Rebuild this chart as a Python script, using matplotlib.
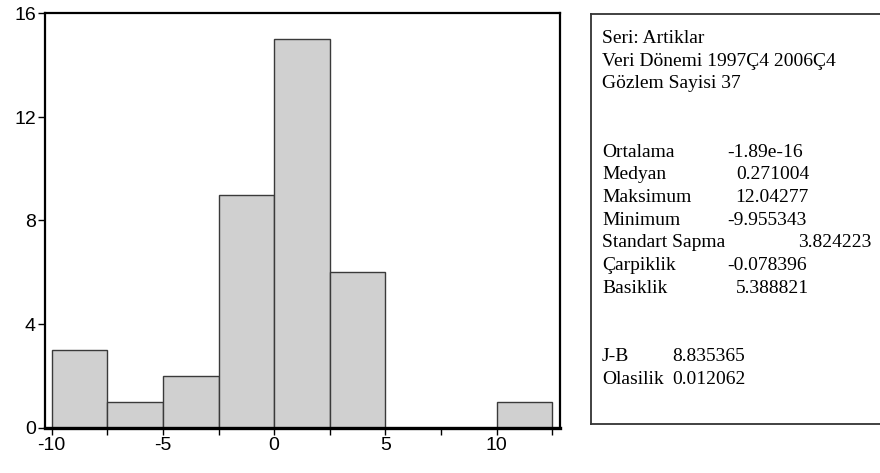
import matplotlib
matplotlib.use("Agg")
import matplotlib.pyplot as plt
from matplotlib.ticker import MultipleLocator, FuncFormatter

plt.rcParams["font.family"] = ["Liberation Sans", "DejaVu Sans"]

# histogram of residuals (bin width 2.5)
bin_left = [-10, -7.5, -5, -2.5, 0, 2.5, 5, 7.5, 10]
bin_width = 2.5
counts = [3, 1, 2, 9, 15, 6, 0, 0, 1]

y_ticks = [0, 4, 8, 12, 16]

# stats box text
header_lines = ["Seri: Artiklar", "Veri Dönemi 1997Ç4 2006Ç4", "Gözlem Sayisi 37"]
stat_names = ["Ortalama", "Medyan", "Maksimum", "Minimum", "Standart Sapma",
              "Çarpiklik", "Basiklik"]
stat_values = ["-1.89e-16", "0.271004", "12.04277", "-9.955343", "3.824223",
               "-0.078396", "5.388821"]
test_names = ["J-B", "Olasilik"]
test_values = ["8.835365", "0.012062"]

W, H = 880, 473
fig = plt.figure(figsize=(W / 100, H / 100), dpi=100)

def px(x, y):
    # pixel coords (top-left origin) -> figure fraction
    return x / W, 1 - y / H

ax = fig.add_axes([45 / W, 1 - 427.5 / H, (560 - 45) / W, (427.5 - 13.5) / H])
ax.bar(bin_left, counts, width=bin_width, align="edge",
       color="#d0d0d0", edgecolor="#3a3a3a", linewidth=1.0, zorder=2)
ax.set_xlim(-10.30, 12.85)
ax.set_ylim(0, 16)

ax.xaxis.set_major_locator(MultipleLocator(5))
ax.xaxis.set_minor_locator(MultipleLocator(2.5))
ax.set_yticks(y_ticks)
ax.xaxis.set_major_formatter(FuncFormatter(lambda v, p: "%d" % v))
ax.tick_params(axis="both", which="both", direction="out", length=5, width=1,
               color="black", labelsize=14, pad=1.5)

for s in ["left", "top", "right"]:
    ax.spines[s].set_linewidth(1.6)
ax.spines["bottom"].set_linewidth(2.4)

# stats panel
box = fig.add_axes([591 / W, 1 - 424 / H, (900 - 591) / W, (424 - 14) / H])
box.set_xticks([])
box.set_yticks([])
for s in box.spines.values():
    s.set_linewidth(1.3)
    s.set_color("#333333")

font = dict(family="Liberation Serif", size=14, color="black", va="baseline")
lx = 602
step = 22.7
y0 = 43

row = 0
for t in header_lines:
    fig.text(*px(lx, y0 + row * step), t, **font)
    row += 1
row += 2
value_x = [727, 736, 735, 727, 798, 727, 736]
for name, val, vx in zip(stat_names, stat_values, value_x):
    fig.text(*px(lx, y0 + row * step), name, **font)
    fig.text(*px(vx, y0 + row * step), val, **font)
    row += 1
row += 2
for name, val in zip(test_names, test_values):
    fig.text(*px(lx, y0 + row * step), name, **font)
    fig.text(*px(672, y0 + row * step), val, **font)
    row += 1

fig.savefig("out.png", dpi=100)
